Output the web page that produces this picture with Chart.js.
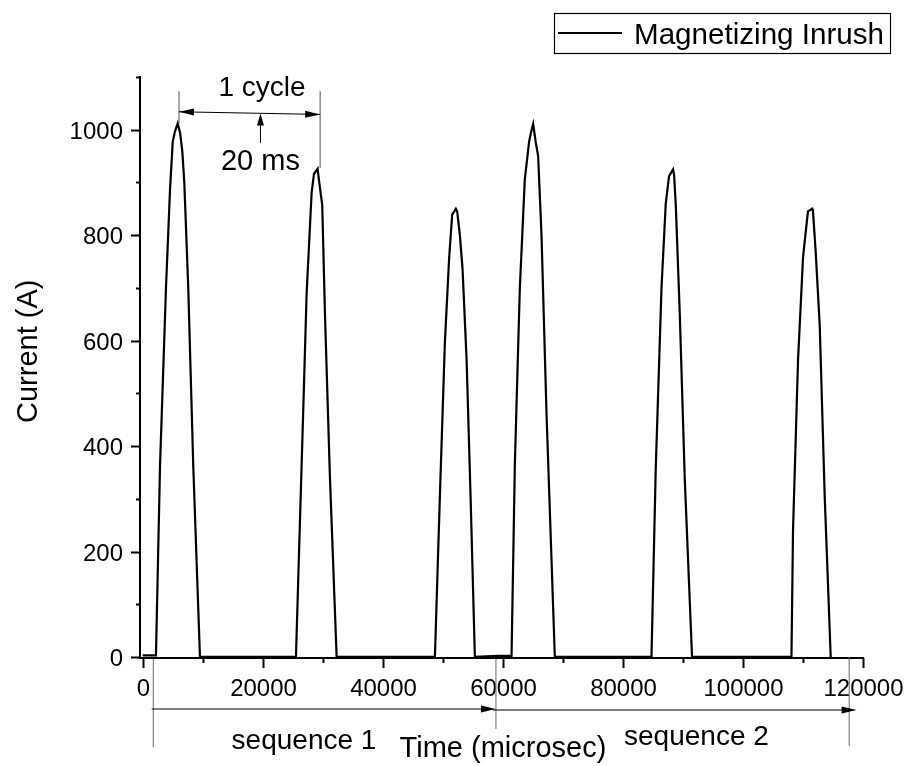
<!DOCTYPE html>
<html>
<head>
<meta charset="utf-8">
<script src="https://cdn.jsdelivr.net/npm/chart.js@4.4.0/dist/chart.umd.min.js"></script>
<style>
  html, body { margin: 0; padding: 0; background: #fff; }
</style>
</head>
<body>
<canvas id="inrushChart" width="908" height="766"></canvas>
<script>
// Valores (tempo em microsegundos, corrente em A)
const seq1Time = [0, 2210, 2880, 3880, 4550, 5000, 5380, 5830, 6230, 6600, 6930, 7590, 8430, 9540,
    25530, 26750, 27310, 28140, 28530, 29140, 29410, 29910, 30360, 31190, 32310,
    48680, 49510, 50340, 51060, 51560, 52170, 52390, 52840, 53290, 53960, 54620, 55340];
const seq1Current = [3, 3, 360, 700, 886, 977, 997, 1012, 994, 959, 900, 700, 360, 0,
    0, 470, 690, 880, 916, 926, 900, 857, 652, 342, 0,
    0, 305, 596, 758, 839, 850, 845, 800, 735, 564, 305, 0];

const seq2Time = [59170, 61450, 62000, 62830, 63660, 64380, 64700, 65050, 65500, 65880, 66440, 67280, 68660,
    84760, 85480, 86430, 87140, 87690, 88360, 88530, 88810, 89480, 90310, 91520,
    108080, 108340, 109180, 110010, 110740, 110840, 111510, 111670, 112120, 112790, 113620, 114620];
const seq2Current = [2, 2, 366, 700, 906, 978, 995, 1011, 975, 950, 800, 460, 0,
    0, 360, 700, 860, 912, 925, 914, 858, 649, 337, 0,
    0, 240, 564, 758, 836, 845, 850, 845, 768, 629, 305, 0];

const xMajorTicks = [0, 20000, 40000, 60000, 80000, 100000, 120000];
const xMinorTicks = [10000, 30000, 50000, 70000, 90000, 110000];
const yMajorTicks = [0, 200, 400, 600, 800, 1000];
const yMinorTicks = [100, 300, 500, 700, 900, 1100];

const serieNome = 'Magnetizing Inrush';
const tituloX = 'Time (microsec)';
const tituloY = 'Current (A)';

// anotações (em unidades de dados do eixo x / y)
const anotCiclo = { inicio: 6045, fim: 29560, topo: 1073, picoA: 1012, picoB: 927, setaA: 1034, setaB: 1029,
    setaMeio: 19620, setaBase: 975, setaPonta: 1031 };
const anotSequencia = { inicio: 1765, meio: 58850, fim: 117700, pontaSeta1: 1500, pontaSeta2: 118940,
    texto1: 26870, texto2: 92250 };

const pontos = seq1Time.map((t, i) => ({ x: t, y: seq1Current[i] }))
    .concat(seq2Time.map((t, i) => ({ x: t, y: seq2Current[i] })));

const FONTE = '"Liberation Sans", Arial, sans-serif';

function texto(ctx, str, x, y, size, align) {
    ctx.save();
    ctx.font = size + 'px ' + FONTE;
    ctx.fillStyle = '#000';
    ctx.textAlign = align || 'center';
    ctx.textBaseline = 'alphabetic';
    ctx.fillText(str, x, y);
    ctx.restore();
}

function linha(ctx, x1, y1, x2, y2, cor, largura) {
    ctx.save();
    ctx.strokeStyle = cor;
    ctx.lineWidth = largura;
    ctx.beginPath();
    ctx.moveTo(x1, y1);
    ctx.lineTo(x2, y2);
    ctx.stroke();
    ctx.restore();
}

// ponta de seta em (x2,y2) vindo de (x1,y1)
function ponta(ctx, x1, y1, x2, y2, comp, meia) {
    const ang = Math.atan2(y2 - y1, x2 - x1);
    const c = Math.cos(ang), s = Math.sin(ang);
    ctx.save();
    ctx.fillStyle = '#000';
    ctx.beginPath();
    ctx.moveTo(x2, y2);
    ctx.lineTo(x2 - comp * c + meia * s, y2 - comp * s - meia * c);
    ctx.lineTo(x2 - comp * c - meia * s, y2 - comp * s + meia * c);
    ctx.closePath();
    ctx.fill();
    ctx.restore();
}

const desenhoExtra = {
    id: 'desenhoExtra',
    afterDraw(chart) {
        const ctx = chart.ctx;
        const xs = chart.scales.x, ys = chart.scales.y;
        const area = chart.chartArea;

        // marcas dos eixos
        xMajorTicks.forEach(v => {
            const px = Math.round(xs.getPixelForValue(v)) + 0.5;
            linha(ctx, px, area.bottom, px, area.bottom + 10, '#000', 2);
            texto(ctx, String(v), px, area.bottom + 38, 24, 'center');
        });
        xMinorTicks.forEach(v => {
            const px = Math.round(xs.getPixelForValue(v)) + 0.5;
            linha(ctx, px, area.bottom, px, area.bottom + 5, '#000', 2);
        });
        yMajorTicks.forEach(v => {
            const py = Math.round(ys.getPixelForValue(v)) + 0.5;
            linha(ctx, area.left - 9, py, area.left, py, '#000', 2);
            texto(ctx, String(v), area.left - 17, py + 8.5, 24, 'right');
        });
        yMinorTicks.forEach(v => {
            const py = Math.round(ys.getPixelForValue(v)) + 0.5;
            linha(ctx, area.left - 4, py, area.left, py, '#000', 2);
        });

        // títulos
        texto(ctx, tituloX, 503, 757, 29, 'center');
        ctx.save();
        ctx.translate(36.5, 423);
        ctx.rotate(-Math.PI / 2);
        texto(ctx, tituloY, 0, 0, 29, 'left');
        ctx.restore();

        // legenda
        ctx.save();
        ctx.strokeStyle = '#000';
        ctx.lineWidth = 1.2;
        ctx.strokeRect(554.5, 13.5, 336, 40);
        ctx.restore();
        linha(ctx, 558, 33, 622, 33, '#000', 2);
        texto(ctx, chart.data.datasets[0].label, 634, 43.5, 29.6, 'left');

        // anotação "1 cycle"
        const xa = xs.getPixelForValue(anotCiclo.inicio);
        const xb = xs.getPixelForValue(anotCiclo.fim);
        const yTopo = ys.getPixelForValue(anotCiclo.topo);
        linha(ctx, xa, yTopo, xa, ys.getPixelForValue(anotCiclo.picoA), '#555', 1);
        linha(ctx, xb, yTopo, xb, ys.getPixelForValue(anotCiclo.picoB), '#555', 1);
        const ya = ys.getPixelForValue(anotCiclo.setaA), yb = ys.getPixelForValue(anotCiclo.setaB);
        linha(ctx, xa, ya, xb, yb, '#000', 1);
        ponta(ctx, xb, yb, xa, ya, 15, 3.5);
        ponta(ctx, xa, ya, xb, yb, 15, 3.5);
        const xm = xs.getPixelForValue(anotCiclo.setaMeio);
        const yBase = ys.getPixelForValue(anotCiclo.setaBase), yPonta = ys.getPixelForValue(anotCiclo.setaPonta);
        linha(ctx, xm, yBase, xm, yPonta + 8, '#000', 1);
        ponta(ctx, xm, yBase, xm, yPonta, 12, 3.5);
        texto(ctx, '1 cycle', xs.getPixelForValue(19870), 96, 28, 'center');
        texto(ctx, '20 ms', xs.getPixelForValue(19620), 170, 29, 'center');

        // anotação das sequências (abaixo do eixo)
        const b = area.bottom;
        const x1 = xs.getPixelForValue(anotSequencia.inicio);
        const x2 = xs.getPixelForValue(anotSequencia.meio);
        const x3 = xs.getPixelForValue(anotSequencia.fim);
        linha(ctx, x1, b + 1, x1, b + 89, '#666', 1);
        linha(ctx, x2, b + 1, x2, b + 71, '#666', 1);
        linha(ctx, x3, b - 1, x3, b + 88, '#666', 1);
        const xp1 = xs.getPixelForValue(anotSequencia.pontaSeta1);
        linha(ctx, xp1, b + 51, x2 - 6, b + 51, '#000', 1);
        ponta(ctx, xp1, b + 51, x2, b + 51, 15, 3.5);
        const xp2 = xs.getPixelForValue(anotSequencia.pontaSeta2);
        linha(ctx, x2 - 3, b + 52, xp2 - 6, b + 52, '#000', 1);
        ponta(ctx, x2, b + 52, xp2, b + 52, 15, 3.5);
        texto(ctx, 'sequence 1', xs.getPixelForValue(anotSequencia.texto1), b + 90.5, 28, 'center');
        texto(ctx, 'sequence 2', xs.getPixelForValue(anotSequencia.texto2), b + 87, 28, 'center');
    }
};

new Chart(document.getElementById('inrushChart').getContext('2d'), {
    type: 'line',
    data: {
        datasets: [{
            label: serieNome,
            data: pontos,
            borderColor: '#000',
            borderWidth: 2.2,
            pointRadius: 0,
            fill: false,
            tension: 0
        }]
    },
    options: {
        responsive: false,
        animation: false,
        devicePixelRatio: 1,
        layout: { padding: { left: 0, right: 45, top: 77, bottom: 0 } },
        plugins: {
            legend: { display: false },
            tooltip: { enabled: false }
        },
        scales: {
            x: {
                type: 'linear',
                min: -450,
                max: 120000,
                grid: { display: false, drawTicks: false },
                border: { display: true, color: '#000', width: 2 },
                ticks: { display: false },
                afterFit: function(scale) { scale.height = 108; }
            },
            y: {
                type: 'linear',
                min: -2,
                max: 1100,
                grid: { display: false, drawTicks: false },
                border: { display: true, color: '#000', width: 2 },
                ticks: { display: false },
                afterFit: function(scale) { scale.width = 140; }
            }
        }
    },
    plugins: [desenhoExtra]
});
</script>
</body>
</html>
